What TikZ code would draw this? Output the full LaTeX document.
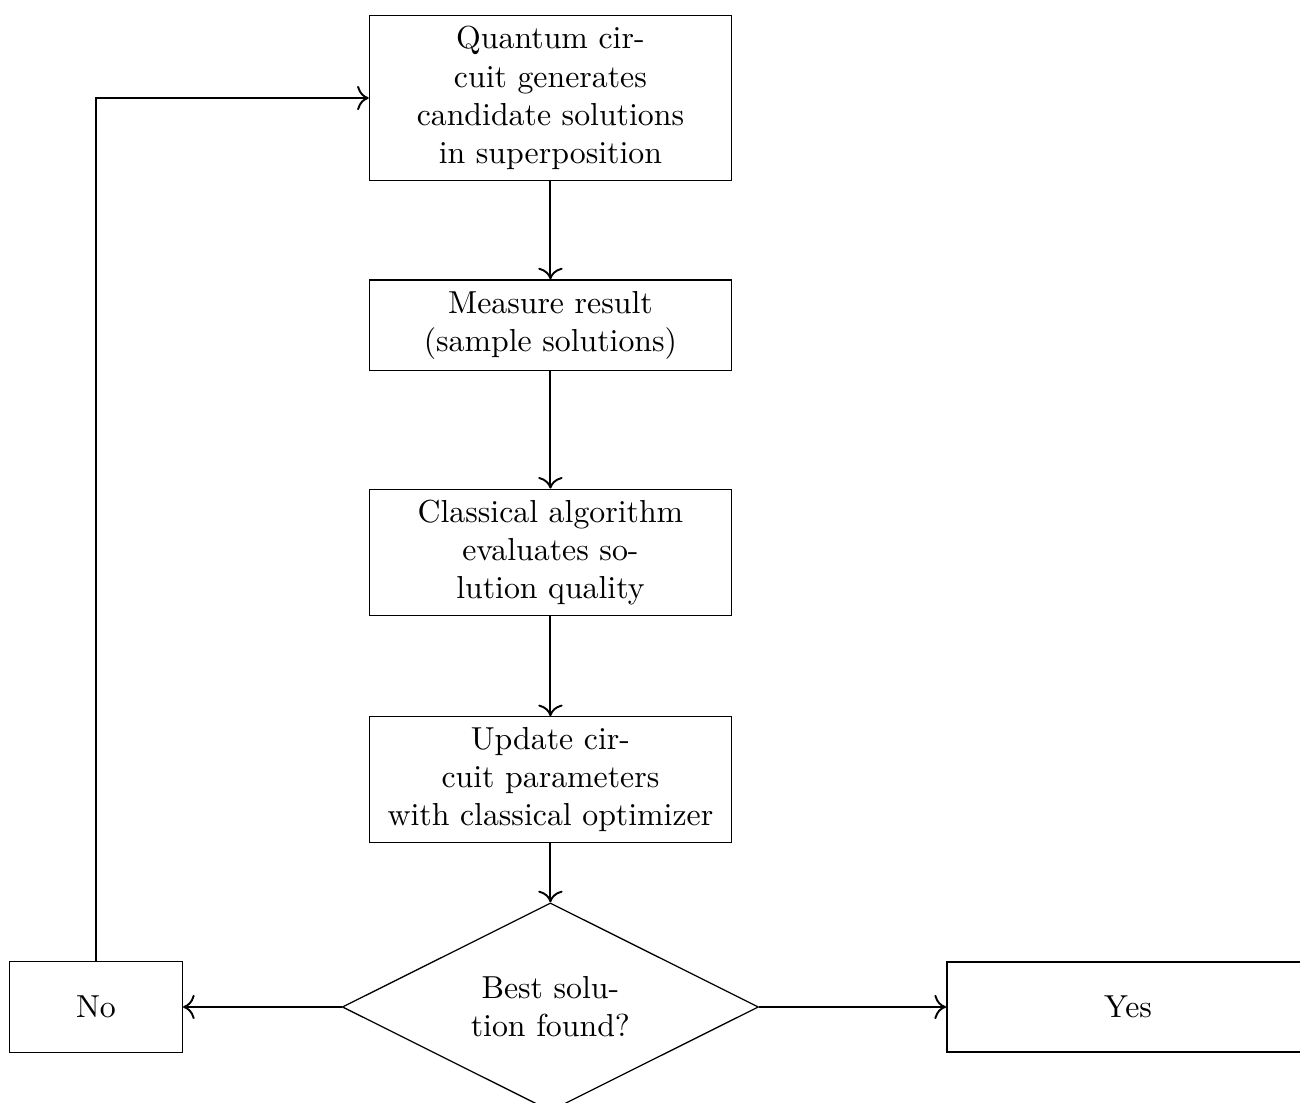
\documentclass[tikz,border=0pt]{standalone}
\usepackage{tikz}
\usetikzlibrary{arrows,arrows.meta}
\usetikzlibrary{positioning,shapes.geometric}

\begin{document}
\begin{tikzpicture}[node distance=2.51cm, on grid,
	caja/.style={rectangle, draw, align=center, minimum width=4cm, minimum height=1cm},
	rombo/.style={diamond, draw, aspect=2, align=center, inner sep=0.25cm},
	flecha/.style={-{To[scale=1.25]}, semithick}]
	\useasboundingbox (-6.08,-11.09) rectangle (8.28,1.083); %marco
	\node[caja] (circuito) {Quantum cir-\\cuit generates\\candidate solutions\\in superposition}; %caja de arriba
	\node[caja, below=of circuito] (medida) {Measure result\\(sample solutions)};
	\node[caja, below=of medida] (evalua) {Classical algorithm\\evaluates so-\\lution quality};
	\node[caja, below=of evalua] (actualiza) {Update cir-\\cuit parameters\\with classical optimizer};
	\node[rombo, below=of actualiza] (mejor) {Best solu-\\tion found?}; %decision
	\node[caja, minimum width=1.91cm, left=5.02cm of mejor] (no) {No}; %rama izquierda
	\node[caja, semithick, right=6.38cm of mejor] (si) {Yes}; %rama derecha
	\draw[flecha] (circuito) -- (medida);
	\draw[flecha] (medida) -- (evalua);
	\draw[flecha] (evalua) -- (actualiza);
	\draw[flecha] (actualiza) -- (mejor);
	\draw[flecha] (mejor) -- (no);
	\draw[flecha] (mejor) -- (si);
	\draw[flecha] (no) |- (circuito); %vuelta al circuito
\end{tikzpicture}
\end{document}
